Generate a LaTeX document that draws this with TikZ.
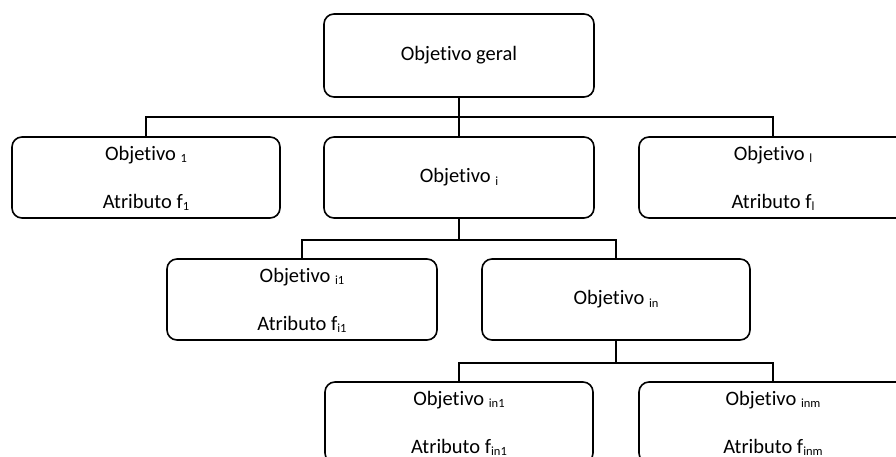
\documentclass[tikz,border=0pt]{standalone}
\usepackage{fontspec}
\setmainfont{Carlito}[Ligatures={NoCommon,NoRequired,NoContextual}]
\newcommand\mysub[1]{\raisebox{-2.5pt}{\fontsize{12.5}{12.5}\selectfont #1}}
\newcommand\twoline[2]{\raisebox{-2pt}[\height][\depth]{\begin{tabular}{@{}c@{}}#1\\[24pt]#2\end{tabular}}}
\begin{document}
\begin{tikzpicture}[x=1pt,y=-1pt,
  box/.style={draw=black, line width=1.6pt, rounded corners=10pt, minimum height=81pt, inner sep=0pt, align=center, font=\fontsize{20.5}{24}\selectfont},
  link/.style={draw=black, line width=1.6pt}]
\clip (0,0) rectangle (896,457);
\fill[white] (0,0) rectangle (896,457);
\node[box, minimum width=270pt, minimum height=83pt] (geral) at (459,55.5) {Objetivo geral};
\node[box, minimum width=268pt] (o1) at (146,177.5) {\twoline{Objetivo \mysub{1}}{Atributo f\mysub{1}}};
\node[box, minimum width=270pt] (oi) at (459,177.5) {Objetivo \mysub{i}};
\node[box, minimum width=268pt] (ol) at (773,177.5) {\twoline{Objetivo \mysub{l}}{Atributo f\mysub{l}}};
\node[box, minimum width=270pt] (oi1) at (302,299.5) {\twoline{Objetivo \mysub{i1}}{Atributo f\mysub{i1}}};
\node[box, minimum width=268pt] (oin) at (616,299.5) {Objetivo \mysub{in}};
\node[box, minimum width=268pt] (oin1) at (459,422.5) {\twoline{Objetivo \mysub{in1}}{Atributo f\mysub{in1}}};
\node[box, minimum width=268pt] (oinm) at (773,422.5) {\twoline{Objetivo \mysub{inm}}{Atributo f\mysub{inm}}};
\coordinate (b1) at (459,117);
\coordinate (b2) at (459,240);
\coordinate (b3) at (616,363);
\draw[link] (geral.south) -- (b1);
\draw[link] (b1) -- (oi.north);
\draw[link] (b1) -| (o1.north);
\draw[link] (b1) -| (ol.north);
\draw[link] (oi.south) -- (b2);
\draw[link] (b2) -| (oi1.north);
\draw[link] (b2) -| (oin.north);
\draw[link] (oin.south) -- (b3);
\draw[link] (b3) -| (oin1.north);
\draw[link] (b3) -| (oinm.north);
\end{tikzpicture}
\end{document}
